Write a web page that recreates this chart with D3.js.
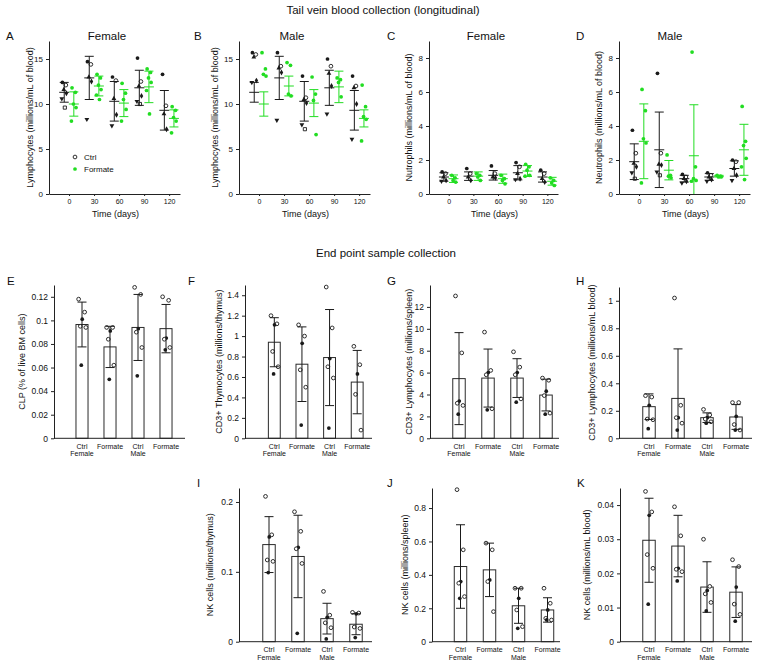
<!DOCTYPE html>
<html><head><meta charset="utf-8">
<script src="https://cdn.jsdelivr.net/npm/d3@7"></script>
<style>body{margin:0;background:#fff} svg{display:block} text{font-family:"Liberation Sans",Arial,Helvetica,sans-serif;fill:#111}</style>
</head><body><svg id="c" width="760" height="665"></svg>
<script>
// ---------- DATA ----------
const days = [0, 30, 60, 90, 120];
const treatGroups = ["Ctrl", "Formate"];

const A_ctrlMean = [11.3, 12.9, 10.3, 11.8, 9.3];
const A_ctrlSD   = [1.1, 2.4, 2.2, 1.95, 2.2];
const A_formMean = [10.0, 12.0, 10.1, 11.9, 8.4];
const A_formSD   = [1.35, 1.1, 1.5, 1.75, 0.95];
const A_ctrlPts = [[12.4,12.1,11.6,11.2,10.6,9.6],[14.7,14.4,13.0,12.5,8.3],[13.0,12.6,10.6,8.8,7.6],[15.1,12.5,12.0,10.9,10.3,10.0],[13.3,9.8,8.9,7.2]];
const A_formPts = [[11.8,11.3,10.0,9.6,8.1],[13.3,12.9,12.1,11.6,11.0,10.5],[12.3,11.2,10.5,9.4,8.1],[13.9,13.5,12.9,12.4,11.5,8.9],[9.7,9.3,8.5,8.1,6.8]];

const B_ctrlMean = [11.3, 12.9, 10.3, 11.8, 9.3];
const B_ctrlSD   = [1.1, 2.4, 2.2, 1.95, 2.2];
const B_formMean = [10.0, 12.0, 10.1, 11.9, 8.4];
const B_formSD   = [1.35, 1.1, 1.5, 1.75, 0.95];
const B_ctrlPts = [[15.7,15.5,15.2,12.6,12.4],[15.7,14.2,14.0,13.5,8.2],[13.1,10.7,10.5,10.1,7.7,7.2],[15.0,14.2,13.4,12.0,8.9],[13.1,12.0,11.8,10.0,6.1]];
const B_formPts = [[15.7,13.9,13.3,13.1],[14.6,14.3,11.1,10.9],[13.0,11.1,10.4,6.6],[12.9,12.7,12.4,10.8],[12.1,9.7,8.6,8.3,5.9]];

const C_ctrlMean = [1.0, 1.05, 1.1, 1.25, 1.0];
const C_ctrlSD   = [0.25, 0.25, 0.28, 0.42, 0.3];
const C_formMean = [0.9, 1.05, 0.9, 1.35, 0.75];
const C_formSD   = [0.22, 0.25, 0.27, 0.32, 0.23];
const C_ctrlPts = [[1.3,1.2,1.0,0.8,0.75],[1.5,1.2,1.0,0.8],[1.65,1.2,1.0,0.95],[1.85,1.6,1.2,0.9,0.85],[1.4,1.2,0.9,0.7]];
const C_formPts = [[1.1,0.95,0.8,0.7],[1.2,1.1,1.0,0.8],[1.1,0.9,0.8,0.6],[1.75,1.6,1.4,1.1,1.05],[0.95,0.8,0.65,0.5]];

const D_ctrlMean = [1.9, 2.6, 0.9, 1.0, 1.5];
const D_ctrlSD   = [1.05, 2.22, 0.2, 0.2, 0.45];
const D_formMean = [3.1, 1.4, 2.25, 1.05, 2.6];
const D_formSD   = [2.2, 0.57, 3.0, 0.05, 1.5];
const D_ctrlPts = [[3.75,2.4,1.8,1.6,1.25,0.9],[7.1,2.4,1.75,1.7,1.3,1.1],[1.15,1.0,0.9,0.75,0.65],[1.25,1.1,1.0,0.85,0.75],[2.0,1.9,1.5,1.1,0.8]];
const D_formPts = [[6.15,4.9,3.25,3.0,0.65],[2.3,1.1,1.05,0.95],[8.35,1.6,0.9,0.8,0.75],[1.1,1.05,1.0,1.0],[5.15,3.1,2.85,2.1,1.6,0.85]];

const lymphTicks = [0, 5, 10, 15];
const neutTicks = [0, 2, 4, 6, 8];

const barGroups = ["Ctrl Female", "Formate Female", "Ctrl Male", "Formate Male"];
const barRow1 = ["Ctrl", "Formate", "Ctrl", "Formate"];
const barRow2 = ["Female", "", "Male", ""];

const E_mean = [0.0965, 0.0775, 0.094, 0.093];
const E_sd   = [0.019, 0.0175, 0.028, 0.0205];
const E_pts  = [[0.118,0.107,0.101,0.095,0.094,0.062],[0.094,0.094,0.091,0.084,0.062,0.050],[0.128,0.122,0.093,0.090,0.077,0.053],[0.120,0.117,0.085,0.084,0.077,0.075]];
const E_ticks = [0, 0.02, 0.04, 0.06, 0.08, 0.1, 0.12];

const F_mean = [0.94, 0.725, 0.79, 0.55];
const F_sd   = [0.24, 0.365, 0.47, 0.31];
const F_pts  = [[1.2,1.12,1.11,0.85,0.70,0.63],[1.11,1.0,0.93,0.67,0.50,0.13],[1.48,1.08,0.78,0.70,0.59,0.10],[0.90,0.72,0.63,0.43,0.08]];
const F_ticks = [0, 0.2, 0.4, 0.6, 0.8, 1, 1.2, 1.4];

const G_mean = [5.45, 5.5, 5.5, 3.95];
const G_sd   = [4.2, 2.65, 1.77, 1.45];
const G_pts  = [[13.0,7.8,3.4,3.2,3.0,2.2],[9.7,6.2,6.0,5.8,2.7,2.6],[7.9,6.5,6.0,5.8,3.6,3.3],[5.5,5.3,4.3,3.9,2.3,2.2]];
const G_ticks = [0, 2, 4, 6, 8, 10, 12];

const H_mean = [0.23, 0.29, 0.15, 0.155];
const H_sd   = [0.093, 0.36, 0.035, 0.09];
const H_pts  = [[0.31,0.30,0.24,0.14,0.135,0.07],[1.02,0.24,0.15,0.15,0.11,0.06],[0.21,0.17,0.15,0.14,0.12,0.11],[0.26,0.26,0.16,0.10,0.06,0.06]];
const H_ticks = [0, 0.2, 0.4, 0.6, 0.8, 1];

const I_mean = [0.139, 0.122, 0.033, 0.025];
const I_sd   = [0.04, 0.059, 0.022, 0.015];
const I_pts  = [[0.208,0.153,0.150,0.117,0.115,0.099],[0.186,0.158,0.135,0.133,0.112,0.012],[0.072,0.038,0.035,0.027,0.020,0.004],[0.042,0.041,0.040,0.021,0.019,0.006]];
const I_ticks = [0, 0.1, 0.2];

const J_mean = [0.45, 0.43, 0.215, 0.19];
const J_sd   = [0.25, 0.16, 0.105, 0.073];
const J_pts  = [[0.91,0.55,0.36,0.35,0.27,0.26],[0.59,0.55,0.37,0.36,0.18],[0.32,0.32,0.26,0.19,0.09,0.08],[0.32,0.23,0.19,0.14,0.13,0.13]];
const J_ticks = [0, 0.2, 0.4, 0.6, 0.8];

const K_mean = [0.0297, 0.028, 0.016, 0.0145];
const K_sd   = [0.0123, 0.009, 0.0074, 0.0074];
const K_pts  = [[0.044,0.038,0.037,0.0255,0.0215,0.011],[0.0395,0.031,0.0215,0.0212,0.0205,0.0178],[0.030,0.0162,0.015,0.014,0.0115,0.009],[0.024,0.022,0.016,0.011,0.008,0.006]];
const K_ticks = [0, 0.01, 0.02, 0.03, 0.04];

// ---------- STYLE / LAYOUT ----------
const GREEN = "#22dd22", BLACK = "#1a1a1a", AX = "#222";
const svg = d3.select("#c");
const fmt = d => String(+d.toFixed(4));
const jit = [-1.8, 1.6, -0.4, 2.2, -2.4, 0.6, 1.1];
const bjit = [-0.28, 0.22, 0.02, -0.14, 0.32, -0.06];
const ctrlKinds = ["circleF", "circleO", "triangle", "diamond", "triDown", "square"];
const barKinds = ["circleO", "circleO", "circleF", "circleO", "circleO", "circleF"];

function marker(g, x, y, kind, color) {
  const map = {circleF: d3.symbolCircle, circleO: d3.symbolCircle, triangle: d3.symbolTriangle,
    triDown: d3.symbolTriangle, diamond: d3.symbolDiamond, square: d3.symbolSquare};
  const sz = kind.startsWith("circle") ? 11 : 10;
  const p = g.append("path").attr("d", d3.symbol().type(map[kind]).size(sz)())
    .attr("transform", `translate(${x},${y})${kind === "triDown" ? " rotate(180)" : ""}`);
  if (kind === "circleO" || kind === "square") p.attr("fill", "#fff").attr("stroke", color).attr("stroke-width", 0.9);
  else p.attr("fill", color);
}

function styleAxis(g, fs) {
  g.selectAll("path.domain").attr("stroke", AX).attr("stroke-width", 1);
  g.selectAll(".tick line").attr("stroke", AX);
  g.selectAll(".tick text").attr("font-size", fs).attr("fill", "#222")
    .attr("font-family", '"Liberation Sans",Arial,sans-serif');
}

// Titles
svg.append("text").attr("x", 383).attr("y", 14).attr("text-anchor", "middle").attr("font-size", 11.5)
  .text("Tail vein blood collection (longitudinal)");
svg.append("text").attr("x", 386).attr("y", 257).attr("text-anchor", "middle").attr("font-size", 11.5)
  .text("End point sample collection");

// ---------- TOP PANELS ----------
const topPanels = [
  {L:"A", title:"Female", titleX:107, yl:"Lymphocytes (millions/mL of blood)", yMax:17, ticks:lymphTicks,
   cm:A_ctrlMean, cs:A_ctrlSD, fm:A_formMean, fs:A_formSD, cp:A_ctrlPts, fp:A_formPts, x0:49, x1:180, labX:33, letX:6, legend:true},
  {L:"B", title:"Male", titleX:292, yl:"Lymphocytes (millions/mL of blood)", yMax:17, ticks:lymphTicks,
   cm:B_ctrlMean, cs:B_ctrlSD, fm:B_formMean, fs:B_formSD, cp:B_ctrlPts, fp:B_formPts, x0:239, x1:370, labX:218, letX:194},
  {L:"C", title:"Female", titleX:486, yl:"Nutrophils (millions/mL of blood)", yMax:9, ticks:neutTicks,
   cm:C_ctrlMean, cs:C_ctrlSD, fm:C_formMean, fs:C_formSD, cp:C_ctrlPts, fp:C_formPts, x0:429, x1:558, labX:412, letX:387},
  {L:"D", title:"Male", titleX:670, yl:"Neutrophils (millions/mL of blood)", yMax:9, ticks:neutTicks,
   cm:D_ctrlMean, cs:D_ctrlSD, fm:D_formMean, fs:D_formSD, cp:D_ctrlPts, fp:D_formPts, x0:619, x1:750, labX:602, letX:576}
];
const TOP_Y0 = 41, TOP_Y1 = 194;

topPanels.forEach(p => {
  const g = svg.append("g");
  const x = d3.scaleLinear().domain([-24, 133]).range([p.x0, p.x1]);
  const y = d3.scaleLinear().domain([0, p.yMax]).range([TOP_Y1, TOP_Y0]).clamp(true);
  const off = d3.scalePoint().domain(treatGroups).range([-4.8, 4.8]);

  g.append("g").attr("transform", `translate(${p.x0},0)`)
    .call(d3.axisLeft(y).tickValues(p.ticks).tickFormat(fmt).tickSize(3).tickSizeOuter(0).tickPadding(3))
    .call(a => styleAxis(a, 8));
  g.append("g").attr("transform", `translate(0,${TOP_Y1})`)
    .call(d3.axisBottom(x).tickValues(days).tickSize(2).tickSizeOuter(0).tickPadding(3))
    .call(a => styleAxis(a, 7));

  g.append("text").attr("x", (p.x0 + p.x1) / 2 + 1).attr("y", 216.5).attr("text-anchor", "middle")
    .attr("font-size", 9).text("Time (days)");
  g.append("text").attr("transform", `translate(${p.labX},${(TOP_Y0 + TOP_Y1) / 2}) rotate(-90)`)
    .attr("text-anchor", "middle").attr("font-size", 9).text(p.yl);
  g.append("text").attr("x", p.letX).attr("y", 40).attr("font-size", 11.5).text(p.L);
  g.append("text").attr("x", p.titleX).attr("y", 40).attr("text-anchor", "middle").attr("font-size", 11.5).text(p.title);

  const series = [
    {grp:"Ctrl", mean:p.cm, sd:p.cs, pts:p.cp, color:BLACK, kinds:ctrlKinds},
    {grp:"Formate", mean:p.fm, sd:p.fs, pts:p.fp, color:GREEN, kinds:["circleF"]}
  ];
  series.forEach(s => {
    days.forEach((d, i) => {
      const cx = x(d) + off(s.grp);
      s.pts[i].forEach((v, j) => marker(g, cx + jit[j % jit.length], y(v), s.kinds[j % s.kinds.length], s.color));
      const lo = s.mean[i] - s.sd[i], hi = s.mean[i] + s.sd[i];
      const eg = g.append("g").attr("stroke", s.color).attr("stroke-width", 1).attr("fill", "none");
      eg.append("line").attr("x1", cx).attr("x2", cx).attr("y1", y(lo)).attr("y2", y(hi));
      eg.append("line").attr("x1", cx - 4.5).attr("x2", cx + 4.5).attr("y1", y(hi)).attr("y2", y(hi));
      if (lo > 0) eg.append("line").attr("x1", cx - 4.5).attr("x2", cx + 4.5).attr("y1", y(lo)).attr("y2", y(lo));
      eg.append("line").attr("x1", cx - 5).attr("x2", cx + 5).attr("y1", y(s.mean[i])).attr("y2", y(s.mean[i]));
    });
  });

  if (p.legend) {
    const lg = svg.append("g");
    marker(lg, 75, 157, "circleO", BLACK);
    marker(lg, 75, 169, "circleF", GREEN);
    lg.append("text").attr("x", 84).attr("y", 160).attr("font-size", 8).text("Ctrl");
    lg.append("text").attr("x", 84).attr("y", 172).attr("font-size", 8).text("Formate");
  }
});

// ---------- BAR PANELS ----------
const barPanels = [
  {L:"E", yl:"CLP (% of live BM cells)", yMax:0.13, ticks:E_ticks, mean:E_mean, sd:E_sd, pts:E_pts,
   x0:54, x1:185, band:[68, 180], y0:285, y1:438.3, labX:25, letX:7, letY:285},
  {L:"F", yl:"CD3+ Thymocytes (millions/thymus)", yMax:1.5, ticks:F_ticks, mean:F_mean, sd:F_sd, pts:F_pts,
   x0:245, x1:372, band:[260.5, 371], y0:285, y1:438.3, labX:222, letX:188, letY:285},
  {L:"G", yl:"CD3+ Lymphocytes (millions/spleen)", yMax:14, ticks:G_ticks, mean:G_mean, sd:G_sd, pts:G_pts,
   x0:430, x1:559, band:[444.5, 560.5], y0:285, y1:438.3, labX:412, letX:387, letY:285},
  {L:"H", yl:"CD3+ Lymphocytes (millions/mL blood)", yMax:1.1, ticks:H_ticks, mean:H_mean, sd:H_sd, pts:H_pts,
   x0:619, x1:752, band:[634.5, 750.5], y0:287, y1:438.3, labX:595, letX:576, letY:285},
  {L:"I", yl:"NK cells (millions/thymus)", yMax:0.22, ticks:I_ticks, mean:I_mean, sd:I_sd, pts:I_pts,
   x0:239, x1:372, band:[254.5, 370.5], y0:488, y1:641.7, labX:213, letX:197, letY:487},
  {L:"J", yl:"NK cells (millions/spleen)", yMax:0.92, ticks:J_ticks, mean:J_mean, sd:J_sd, pts:J_pts,
   x0:432, x1:560, band:[446, 562], y0:488, y1:641.7, labX:408, letX:387, letY:487},
  {L:"K", yl:"NK cells (millions/mL blood)", yMax:0.045, ticks:K_ticks, mean:K_mean, sd:K_sd, pts:K_pts,
   x0:620, x1:752, band:[634.5, 750.5], y0:488, y1:641.7, labX:590, letX:577, letY:487}
];

barPanels.forEach(p => {
  const g = svg.append("g");
  const xb = d3.scaleBand().domain(barGroups).range(p.band).paddingInner(0.57).paddingOuter(0.285);
  const y = d3.scaleLinear().domain([0, p.yMax]).range([p.y1, p.y0]).clamp(true);
  const bw = xb.bandwidth();

  g.selectAll("rect.bar").data(barGroups).join("rect")
    .attr("x", d => xb(d)).attr("width", bw)
    .attr("y", (d, i) => y(p.mean[i])).attr("height", (d, i) => y(0) - y(p.mean[i]))
    .attr("fill", "#fff").attr("stroke", "#2a2a2a").attr("stroke-width", 1);

  barGroups.forEach((grp, i) => {
    const cx = xb(grp) + bw / 2;
    p.pts[i].forEach((v, j) => marker(g, cx + bjit[j % bjit.length] * bw, y(v), barKinds[j % barKinds.length], BLACK));
  });

  barGroups.forEach((grp, i) => {
    const cx = xb(grp) + bw / 2;
    const lo = p.mean[i] - p.sd[i], hi = p.mean[i] + p.sd[i];
    const eg = g.append("g").attr("stroke", "#1a1a1a").attr("stroke-width", 1);
    eg.append("line").attr("x1", cx).attr("x2", cx).attr("y1", y(lo)).attr("y2", y(hi));
    eg.append("line").attr("x1", cx - 4.5).attr("x2", cx + 4.5).attr("y1", y(hi)).attr("y2", y(hi));
    if (lo > 0) eg.append("line").attr("x1", cx - 4.5).attr("x2", cx + 4.5).attr("y1", y(lo)).attr("y2", y(lo));
  });

  g.append("g").attr("transform", `translate(${p.x0},0)`)
    .call(d3.axisLeft(y).tickValues(p.ticks).tickFormat(fmt).tickSize(3).tickSizeOuter(0).tickPadding(3))
    .call(a => styleAxis(a, 8.5));
  g.append("line").attr("x1", p.x0).attr("x2", p.x1).attr("y1", p.y1).attr("y2", p.y1)
    .attr("stroke", AX).attr("stroke-width", 1);

  g.selectAll("text.r1").data(barGroups).join("text")
    .attr("x", d => xb(d) + bw / 2).attr("y", p.y1 + 10.5).attr("text-anchor", "middle")
    .attr("font-size", 7).attr("fill", "#222").text((d, i) => barRow1[i]);
  g.selectAll("text.r2").data(barGroups).join("text")
    .attr("x", d => xb(d) + bw / 2).attr("y", p.y1 + 18).attr("text-anchor", "middle")
    .attr("font-size", 7).attr("fill", "#222").text((d, i) => barRow2[i]);

  g.append("text").attr("transform", `translate(${p.labX},${(p.y0 + p.y1) / 2}) rotate(-90)`)
    .attr("text-anchor", "middle").attr("font-size", 9).text(p.yl);
  g.append("text").attr("x", p.letX).attr("y", p.letY).attr("font-size", 11.5).text(p.L);
});
</script></body></html>
